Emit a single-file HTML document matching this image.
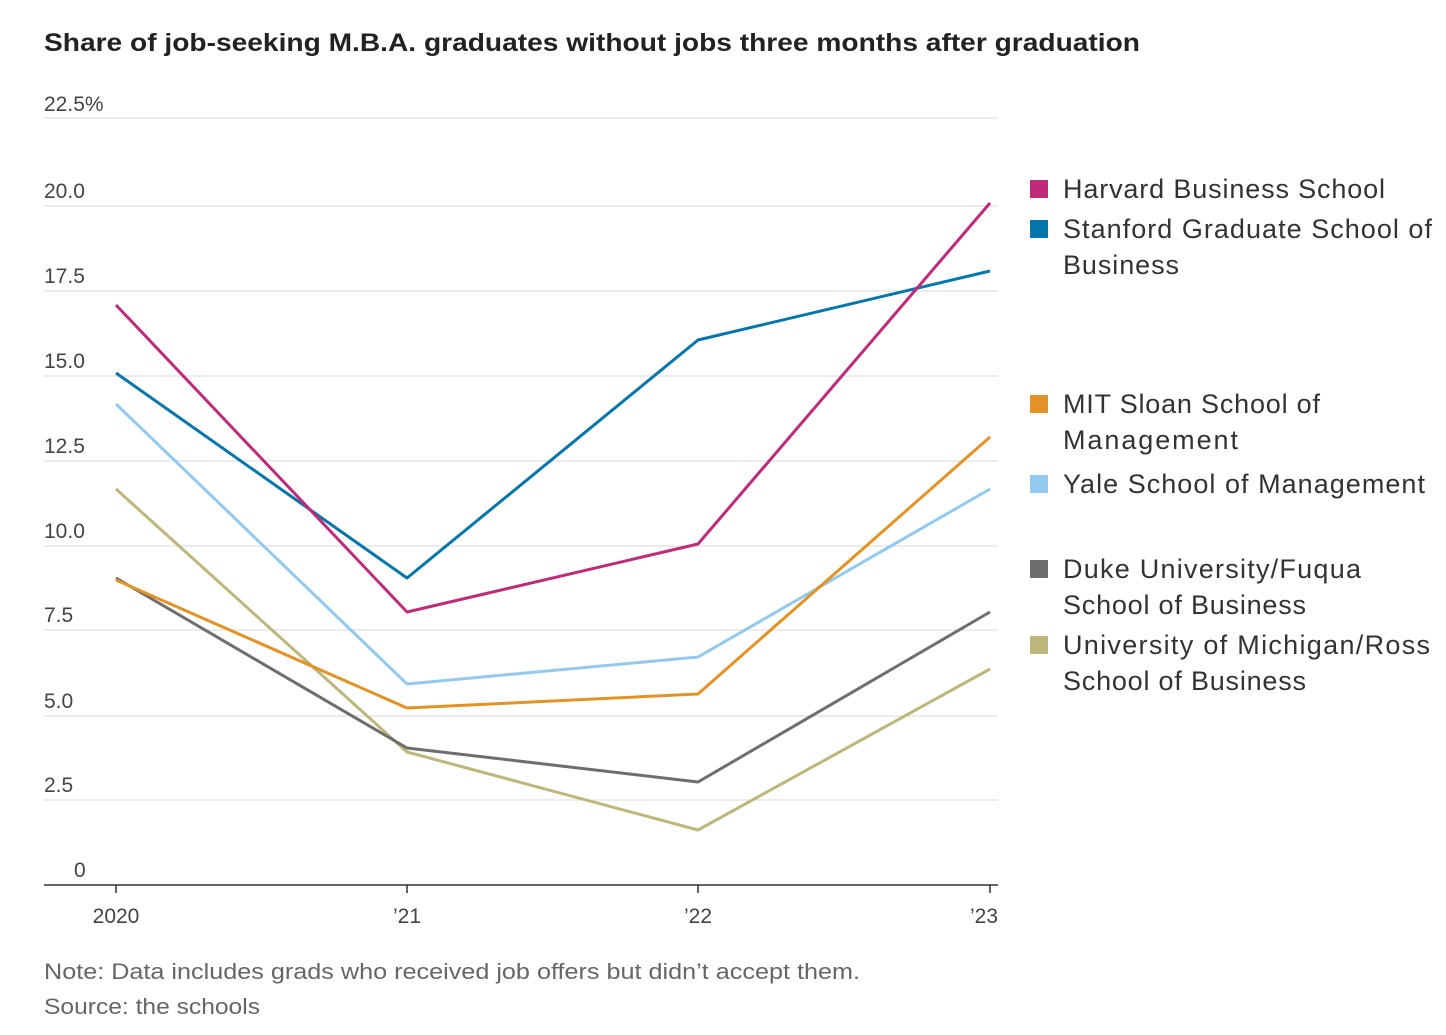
<!DOCTYPE html>
<html><head><meta charset="utf-8"><style>
body{margin:0;background:#fff;font-family:"Liberation Sans",sans-serif;}
</style></head><body>
<svg width="1446" height="1030" xmlns="http://www.w3.org/2000/svg" font-family="Liberation Sans, sans-serif">
<text x="44" y="51" font-size="25" font-weight="bold" fill="#222" textLength="1096" lengthAdjust="spacingAndGlyphs">Share of job-seeking M.B.A. graduates without jobs three months after graduation</text>
<g stroke="#d8d8d8" stroke-width="1">
<line x1="44" y1="118" x2="998" y2="118"/><line x1="44" y1="206" x2="998" y2="206"/>
<line x1="44" y1="291" x2="998" y2="291"/><line x1="44" y1="376" x2="998" y2="376"/>
<line x1="44" y1="461" x2="998" y2="461"/><line x1="44" y1="546" x2="998" y2="546"/>
<line x1="44" y1="630" x2="998" y2="630"/><line x1="44" y1="716" x2="998" y2="716"/>
<line x1="44" y1="800" x2="998" y2="800"/>
</g>
<line x1="44" y1="885" x2="998" y2="885" stroke="#333" stroke-width="1.5"/>
<g stroke="#333" stroke-width="1.5"><line x1="116" y1="885" x2="116" y2="893"/><line x1="407" y1="885" x2="407" y2="893"/><line x1="698" y1="885" x2="698" y2="893"/><line x1="990" y1="885" x2="990" y2="893"/></g>
<g font-size="21" fill="#444">
<text x="44" y="111">22.5%</text><text x="44" y="198">20.0</text><text x="44" y="283">17.5</text>
<text x="44" y="368">15.0</text><text x="44" y="453">12.5</text><text x="44" y="538">10.0</text>
<text x="44" y="622">7.5</text><text x="44" y="708">5.0</text><text x="44" y="792">2.5</text><text x="74" y="877">0</text>
</g>
<g font-size="21" fill="#444" text-anchor="middle">
<text x="116" y="923">2020</text><text x="407" y="923">’21</text><text x="698" y="923">’22</text><text x="984" y="923">’23</text>
</g>
<g fill="none" stroke-width="3" stroke-linejoin="round">
<polyline stroke="#bdb77b" points="116,489 407,752 698,830 990,669"/>
<polyline stroke="#6e6e6e" points="116,578 407,748 698,782 990,612"/>
<polyline stroke="#93c9ee" points="116,404 407,684 698,657 990,489"/>
<polyline stroke="#e39326" points="116,580 407,708 698,694 990,437"/>
<polyline stroke="#0576ab" points="116,373 407,578 698,340 990,271"/>
<polyline stroke="#bf2b78" points="116,305 407,612 698,544 990,203"/>
</g>
<g font-size="27" fill="#333" lengthAdjust="spacingAndGlyphs">
<rect x="1030" y="180" width="18" height="18" fill="#bf2b78"/><text x="1063" y="198" textLength="322">Harvard Business School</text>
<rect x="1030" y="220" width="18" height="18" fill="#0576ab"/><text x="1063" y="238" textLength="369">Stanford Graduate School of</text><text x="1063" y="274" textLength="116">Business</text>
<rect x="1030" y="395" width="18" height="18" fill="#e39326"/><text x="1063" y="413" textLength="257">MIT Sloan School of</text><text x="1063" y="449" textLength="175">Management</text>
<rect x="1030" y="475" width="18" height="18" fill="#93c9ee"/><text x="1063" y="493" textLength="362">Yale School of Management</text>
<rect x="1030" y="560" width="18" height="18" fill="#6e6e6e"/><text x="1063" y="578" textLength="298">Duke University/Fuqua</text><text x="1063" y="614" textLength="243">School of Business</text>
<rect x="1030" y="636" width="18" height="18" fill="#bdb77b"/><text x="1063" y="654" textLength="367">University of Michigan/Ross</text><text x="1063" y="690" textLength="243">School of Business</text>
</g>
<g font-size="22" fill="#666">
<text x="44" y="979" textLength="816" lengthAdjust="spacingAndGlyphs">Note: Data includes grads who received job offers but didn’t accept them.</text>
<text x="44" y="1014" textLength="216" lengthAdjust="spacingAndGlyphs">Source: the schools</text>
</g>
</svg>
</body></html>
